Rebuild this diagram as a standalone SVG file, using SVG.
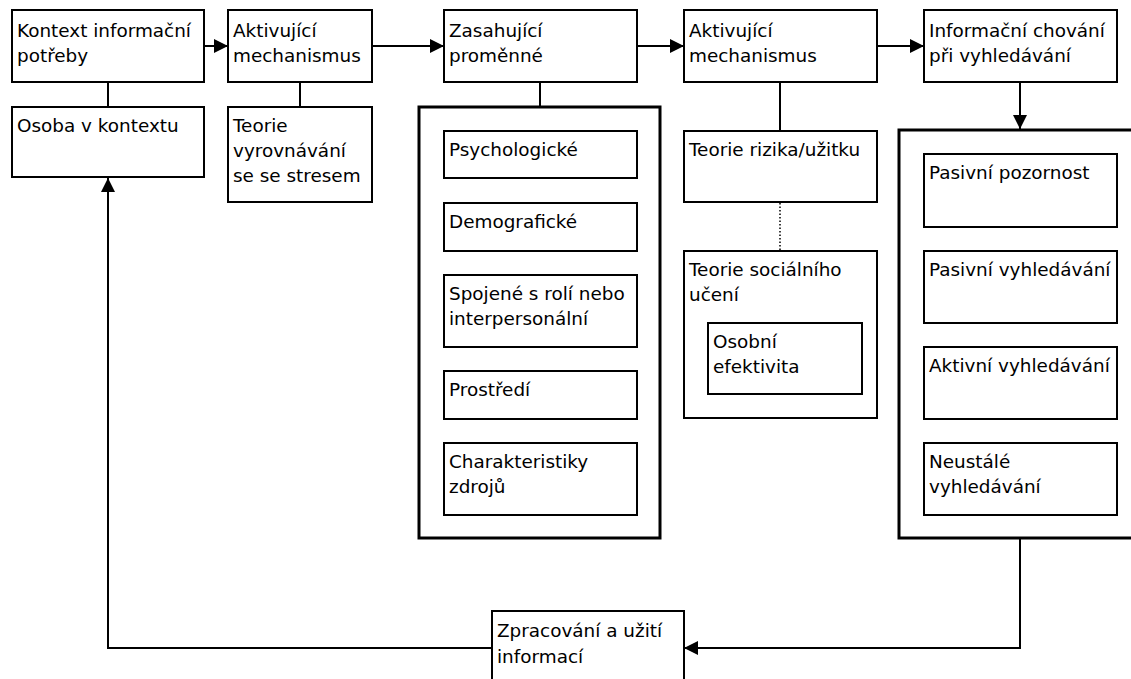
<svg xmlns="http://www.w3.org/2000/svg" width="1131" height="679" viewBox="0 0 1131 679">
  <style>
    .box { fill: #fff; stroke: #000; stroke-width: 2; }
    .frame { fill: #fff; stroke: #000; stroke-width: 3; }
    .lbl { font-family: "DejaVu Sans", sans-serif; font-size: 18.4px; fill: #000; }
    .wire { fill: none; stroke: #000; stroke-width: 2; }
    .dots { fill: none; stroke: #000; stroke-width: 1.5; stroke-dasharray: 1.5 2; }
  </style>
  <defs>
    <marker id="head" viewBox="0 0 14 14" refX="14" refY="7" markerWidth="14" markerHeight="14" markerUnits="userSpaceOnUse" orient="auto">
      <path d="M0,0 L14,7 L0,14 Z" fill="#000"/>
    </marker>
  </defs>

  <!-- connectors -->
  <g id="connectors">
    <line class="wire" x1="204" y1="46" x2="228" y2="46" marker-end="url(#head)"/>
    <line class="wire" x1="372" y1="46" x2="444" y2="46" marker-end="url(#head)"/>
    <line class="wire" x1="637" y1="46" x2="684" y2="46" marker-end="url(#head)"/>
    <line class="wire" x1="877" y1="46" x2="924" y2="46" marker-end="url(#head)"/>
    <line class="wire" x1="1020" y1="82" x2="1020" y2="129" marker-end="url(#head)"/>
    <line class="wire" x1="108" y1="82" x2="108" y2="107"/>
    <line class="wire" x1="300" y1="82" x2="300" y2="107"/>
    <line class="wire" x1="540" y1="82" x2="540" y2="107"/>
    <line class="wire" x1="780" y1="82" x2="780" y2="131"/>
    <line class="dots" x1="780" y1="203" x2="780" y2="251"/>
    <polyline class="wire" points="1020,538 1020,648 684,648" marker-end="url(#head)"/>
    <polyline class="wire" points="492,648 108,648 108,178" marker-end="url(#head)"/>
  </g>

  <g id="kontext">
    <rect class="box" x="12" y="10" width="192" height="72"/>
    <text class="lbl" x="17" y="37">Kontext informační</text>
    <text class="lbl" x="17" y="62">potřeby</text>
  </g>
  <g id="osoba">
    <rect class="box" x="12" y="107" width="192" height="70"/>
    <text class="lbl" x="17" y="132">Osoba v kontextu</text>
  </g>

  <g id="aktivujici-1">
    <rect class="box" x="228" y="10" width="144" height="72"/>
    <text class="lbl" x="233" y="37">Aktivující</text>
    <text class="lbl" x="233" y="62">mechanismus</text>
  </g>
  <g id="teorie-stres">
    <rect class="box" x="228" y="107" width="144" height="95"/>
    <text class="lbl" x="233" y="132">Teorie</text>
    <text class="lbl" x="233" y="157">vyrovnávání</text>
    <text class="lbl" x="233" y="182">se se stresem</text>
  </g>

  <g id="zasahujici">
    <rect class="box" x="444" y="10" width="193" height="72"/>
    <text class="lbl" x="449" y="37">Zasahující</text>
    <text class="lbl" x="449" y="62">proměnné</text>
  </g>
  <g id="promenne">
    <rect class="frame" x="419" y="107" width="241" height="431"/>
    <rect class="box" x="444" y="131" width="193" height="47"/>
    <text class="lbl" x="449" y="156">Psychologické</text>
    <rect class="box" x="444" y="203" width="193" height="48"/>
    <text class="lbl" x="449" y="228">Demografické</text>
    <rect class="box" x="444" y="275" width="193" height="72"/>
    <text class="lbl" x="449" y="300">Spojené s rolí nebo</text>
    <text class="lbl" x="449" y="325">interpersonální</text>
    <rect class="box" x="444" y="371" width="193" height="48"/>
    <text class="lbl" x="449" y="396">Prostředí</text>
    <rect class="box" x="444" y="443" width="193" height="72"/>
    <text class="lbl" x="449" y="468">Charakteristiky</text>
    <text class="lbl" x="449" y="493">zdrojů</text>
  </g>

  <g id="aktivujici-2">
    <rect class="box" x="684" y="10" width="193" height="72"/>
    <text class="lbl" x="689" y="37">Aktivující</text>
    <text class="lbl" x="689" y="62">mechanismus</text>
  </g>
  <g id="riziko">
    <rect class="box" x="684" y="131" width="193" height="71"/>
    <text class="lbl" x="689" y="156">Teorie rizika/užitku</text>
  </g>
  <g id="socialni-uceni">
    <rect class="box" x="684" y="251" width="193" height="167"/>
    <text class="lbl" x="689" y="276">Teorie sociálního</text>
    <text class="lbl" x="689" y="301">učení</text>
    <rect class="box" x="708" y="323" width="154" height="71"/>
    <text class="lbl" x="713" y="348">Osobní</text>
    <text class="lbl" x="713" y="373">efektivita</text>
  </g>

  <g id="chovani">
    <rect class="box" x="924" y="10" width="193" height="72"/>
    <text class="lbl" x="929" y="37">Informační chování</text>
    <text class="lbl" x="929" y="62">při vyhledávání</text>
  </g>
  <g id="vyhledavani">
    <rect class="frame" x="899" y="130" width="260" height="408"/>
    <rect class="box" x="924" y="154" width="193" height="73"/>
    <text class="lbl" x="929" y="179">Pasivní pozornost</text>
    <rect class="box" x="924" y="251" width="193" height="72"/>
    <text class="lbl" x="929" y="276">Pasivní vyhledávání</text>
    <rect class="box" x="924" y="347" width="193" height="72"/>
    <text class="lbl" x="929" y="372">Aktivní vyhledávání</text>
    <rect class="box" x="924" y="443" width="193" height="72"/>
    <text class="lbl" x="929" y="468">Neustálé</text>
    <text class="lbl" x="929" y="493">vyhledávání</text>
  </g>

  <g id="zpracovani">
    <rect class="box" x="492" y="611" width="192" height="80"/>
    <text class="lbl" x="497" y="637">Zpracování a užití</text>
    <text class="lbl" x="497" y="663">informací</text>
  </g>
</svg>
